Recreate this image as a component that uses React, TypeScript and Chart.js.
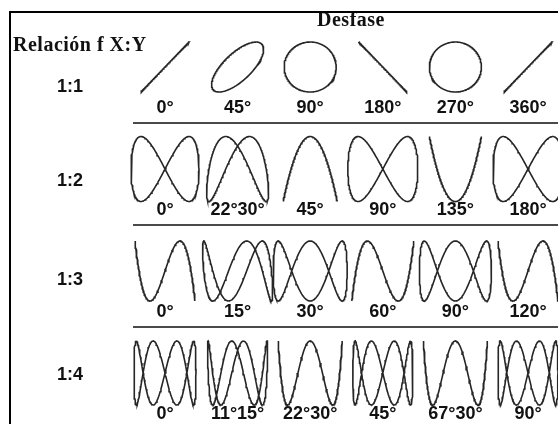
import React, { useEffect, useRef } from "react";
import { Chart, registerables } from "chart.js";

Chart.register(...registerables);

// ---------------- data ----------------
const TITLE = "Desfase";
const RATIO_TITLE = "Relación f X:Y";
const RATIO_LABELS = ["1:1", "1:2", "1:3", "1:4"];
// Y frequency for an X frequency of 1
const Y_FREQ = [1, 2, 3, 4];

const PHASE_LABELS_1_1 = ["0°", "45°", "90°", "180°", "270°", "360°"];
const PHASE_LABELS_1_2 = ["0°", "22°30°", "45°", "90°", "135°", "180°"];
const PHASE_LABELS_1_3 = ["0°", "15°", "30°", "60°", "90°", "120°"];
const PHASE_LABELS_1_4 = ["0°", "11°15°", "22°30°", "45°", "67°30°", "90°"];

// phase of the Y signal (degrees, in Y cycles) as drawn in each figure
const CURVE_PHASE_1_1 = [0, 45, 90, 180, 270, 360];
const CURVE_PHASE_1_2 = [0, 45, 90, 180, 270, 360];
const CURVE_PHASE_1_3 = [0, 45, 90, 180, 270, 360];
const CURVE_PHASE_1_4 = [0, 45, 90, 180, 90, 360];

const PHASE_LABELS = [PHASE_LABELS_1_1, PHASE_LABELS_1_2, PHASE_LABELS_1_3, PHASE_LABELS_1_4];
const CURVE_PHASES = [CURVE_PHASE_1_1, CURVE_PHASE_1_2, CURVE_PHASE_1_3, CURVE_PHASE_1_4];

// ---------------- layout (sizes / positions) ----------------
const W = 558;
const H = 424;
const COL_PX = 72.6;
const COL0_PX = 165;
const ROW_PX = 102;
const ROW0_PX = 67;
const X_MIN = -COL0_PX / COL_PX;
const X_MAX = X_MIN + W / COL_PX;
const Y_MIN = -ROW0_PX / ROW_PX;
const Y_MAX = Y_MIN + H / ROW_PX;

// half sizes of the figures in px
const HALF_W_PX = [
  [24, 26, 26, 24, 26, 24],
  [34, 31, 27, 35, 26, 35],
  [30, 35, 37, 31, 36, 30],
  [31, 30, 32, 30, 32, 30],
];
const HALF_H_PX = [25, 32.5, 30, 32];

const SEP_OFFSET = 0.55;
const SEP_START_PX = 133;
const LABEL_OFFSET = 0.4;
const RATIO_LABEL_X_PX = 70;
const RATIO_LABEL_DY = [0.2, 0.12, 0.09, 0.02];

const px2x = (p: number) => (p - COL0_PX) / COL_PX;
const px2y = (p: number) => (p - ROW0_PX) / ROW_PX;

const STEPS = 240;

function buildDatasets() {
  const ds: any[] = [];
  for (let r = 0; r < RATIO_LABELS.length; r++) {
    const n = Y_FREQ[r];
    for (let c = 0; c < CURVE_PHASES[r].length; c++) {
      const psi = (CURVE_PHASES[r][c] * Math.PI) / 180;
      const hw = HALF_W_PX[r][c] / COL_PX;
      const hh = HALF_H_PX[r] / ROW_PX;
      const pts: { x: number; y: number }[] = [];
      for (let i = 0; i <= STEPS; i++) {
        const t = (i / STEPS) * Math.PI * 2;
        pts.push({ x: c + hw * Math.sin(t), y: r - hh * Math.sin(n * t + psi) });
      }
      ds.push({
        data: pts,
        showLine: true,
        pointRadius: 0,
        borderColor: "#262626",
        borderWidth: 1.6,
        tension: 0,
        fill: false,
      });
    }
  }
  for (let r = 0; r < RATIO_LABELS.length - 1; r++) {
    ds.push({
      data: [
        { x: px2x(SEP_START_PX), y: r + SEP_OFFSET },
        { x: X_MAX, y: r + SEP_OFFSET },
      ],
      showLine: true,
      pointRadius: 0,
      borderColor: "#4a4a4a",
      borderWidth: 2,
      fill: false,
    });
  }
  return ds;
}

const textPlugin = {
  id: "lissajousTexts",
  afterDatasetsDraw(chart: any) {
    const { ctx } = chart;
    const xs = chart.scales.x;
    const ys = chart.scales.y;
    const put = (text: string, xv: number, yv: number, font: string, align: CanvasTextAlign = "center", spacing = "0px") => {
      ctx.save();
      ctx.font = font;
      (ctx as any).letterSpacing = spacing;
      ctx.textAlign = align;
      ctx.textBaseline = "middle";
      ctx.fillStyle = "#111";
      ctx.fillText(text, xs.getPixelForValue(xv), ys.getPixelForValue(yv));
      ctx.restore();
    };
    const serif = 'bold 20px "Liberation Serif", "DejaVu Serif", serif';
    const sans = 'bold 18px "Liberation Sans", Arial, sans-serif';
    put(TITLE, px2x(351), px2y(21), serif, "center", "0.5px");
    put(RATIO_TITLE, px2x(13), px2y(46), serif, "left", "0.5px");
    for (let r = 0; r < RATIO_LABELS.length; r++) {
      put(RATIO_LABELS[r], px2x(RATIO_LABEL_X_PX), r + RATIO_LABEL_DY[r], sans);
      for (let c = 0; c < PHASE_LABELS[r].length; c++) {
        put(PHASE_LABELS[r][c], c, r + LABEL_OFFSET, sans);
      }
    }
  },
};

export default function App() {
  const ref = useRef<HTMLCanvasElement | null>(null);
  useEffect(() => {
    if (!ref.current) return;
    const chart = new Chart(ref.current, {
      type: "scatter",
      data: { datasets: buildDatasets() },
      options: {
        animation: false,
        responsive: false,
        maintainAspectRatio: false,
        layout: { padding: 0 },
        plugins: { legend: { display: false }, tooltip: { enabled: false } },
        scales: {
          x: { type: "linear", min: X_MIN, max: X_MAX, display: false },
          y: { type: "linear", min: Y_MIN, max: Y_MAX, reverse: true, display: false },
        },
      },
      plugins: [textPlugin],
    });
    return () => chart.destroy();
  }, []);
  return (
    <div style={{ position: "fixed", left: 0, top: 0, width: W, height: H, background: "#fff", overflow: "hidden" }}>
      <canvas ref={ref} width={W} height={H} style={{ display: "block", width: W, height: H }} />
      <div
        style={{
          position: "absolute",
          left: 9,
          top: 11,
          right: -4,
          bottom: -4,
          borderTop: "2px solid #000",
          borderLeft: "2px solid #000",
          pointerEvents: "none",
        }}
      />
    </div>
  );
}
